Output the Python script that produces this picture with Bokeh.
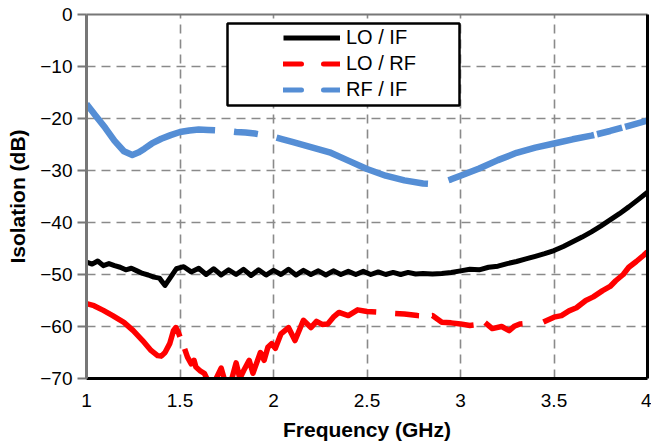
import math
from bokeh.plotting import figure
from bokeh.models import (Legend, LegendItem, LinearAxis, FixedTicker, CustomJSTickFormatter,
                          BoxAnnotation, ColumnDataSource, Range1d)
from bokeh.embed import file_html
from bokeh.resources import INLINE

# ---- data ----
x_ticks = [1, 1.5, 2, 2.5, 3, 3.5, 4]
y_ticks = [0, -10, -20, -30, -40, -50, -60, -70]

lo_if_freq = [1.00, 1.03, 1.06, 1.09, 1.12, 1.15, 1.18, 1.21, 1.24, 1.27, 1.30, 1.33, 1.36, 1.39,
              1.42, 1.45, 1.48, 1.52, 1.56, 1.60, 1.64, 1.68, 1.72, 1.76, 1.80, 1.84, 1.88, 1.92,
              1.96, 2.00, 2.04, 2.08, 2.12, 2.16, 2.20, 2.24, 2.28, 2.32, 2.36, 2.40, 2.44, 2.48,
              2.52, 2.56, 2.60, 2.64, 2.68, 2.72, 2.76, 2.80, 2.85, 2.90, 2.95, 3.00, 3.05, 3.10,
              3.15, 3.20, 3.25, 3.30, 3.35, 3.40, 3.45, 3.50, 3.55, 3.60, 3.65, 3.70, 3.75, 3.80,
              3.85, 3.90, 3.95, 4.00]
lo_if_db = [-47.6, -48.0, -47.4, -48.3, -47.9, -48.3, -48.6, -49.1, -48.8, -49.3, -49.8, -50.1, -50.5, -50.7,
            -52.1, -50.5, -48.9, -48.5, -49.5, -48.8, -50.0, -48.9, -50.1, -49.1, -50.0, -49.0, -50.2, -49.1,
            -50.1, -49.2, -50.0, -49.0, -50.1, -49.2, -50.0, -49.3, -50.1, -49.3, -50.0, -49.4, -50.0, -49.4,
            -50.0, -49.5, -50.0, -49.6, -50.0, -49.6, -49.9, -49.8, -49.9, -49.8, -49.6, -49.3, -49.0, -49.1,
            -48.6, -48.4, -47.9, -47.5, -47.0, -46.5, -46.0, -45.4, -44.6, -43.7, -42.8, -41.8, -40.7, -39.5,
            -38.3, -37.0, -35.6, -34.2]

lo_rf_freq = [1.00, 1.04, 1.09, 1.14, 1.20, 1.25, 1.30, 1.345, 1.38, 1.40, 1.42, 1.445, 1.465, 1.478,
              1.49, 1.50, 1.51, 1.54, 1.56, 1.575, 1.585, 1.61, 1.63, 1.65, 1.68, 1.70, 1.72, 1.74,
              1.77, 1.80, 1.82, 1.84, 1.87, 1.89, 1.91, 1.93, 1.95, 1.97, 1.99, 2.01, 2.04, 2.08,
              2.115, 2.16, 2.20, 2.23, 2.26, 2.29, 2.32, 2.35, 2.40, 2.45, 2.50, 2.55, 2.60, 2.65,
              2.70, 2.77, 2.82, 2.85, 2.90, 2.95, 3.00, 3.05, 3.10, 3.13, 3.17, 3.22, 3.26, 3.29,
              3.32, 3.38, 3.44, 3.50, 3.54, 3.58, 3.62, 3.67, 3.71, 3.76, 3.80, 3.83, 3.87, 3.90,
              3.94, 3.98, 4.00]
lo_rf_db = [-55.6, -56.0, -56.9, -57.9, -59.2, -60.8, -62.7, -64.6, -65.6, -65.7, -65.0, -63.3, -60.8, -60.2,
            -61.0, -62.0, -62.7, -65.9, -67.2, -66.5, -67.8, -68.6, -69.0, -70.5, -71.0, -69.5, -68.0, -70.5,
            -71.0, -67.0, -70.0, -68.5, -66.5, -69.0, -67.0, -65.0, -66.5, -64.0, -63.3, -64.2, -61.4, -60.2,
            -62.7, -58.8, -60.2, -59.0, -59.6, -59.5, -58.2, -57.3, -57.9, -56.8, -57.1, -57.2, -57.4, -57.5,
            -57.6, -57.9, -58.0, -57.9, -59.2, -59.3, -59.5, -59.8, -59.6, -59.2, -60.4, -60.0, -60.8, -59.9,
            -59.5, -59.3, -59.2, -58.2, -57.9, -57.0, -56.4, -55.0, -54.3, -53.1, -52.3, -51.2, -50.0, -48.6,
            -47.5, -46.3, -45.6]

rf_if_freq = [1.00, 1.05, 1.10, 1.15, 1.20, 1.245, 1.28, 1.31, 1.35, 1.40, 1.45, 1.50, 1.55, 1.60,
              1.65, 1.70, 1.75, 1.80, 1.85, 1.90, 1.95, 2.00, 2.05, 2.10, 2.20, 2.30, 2.40, 2.50,
              2.60, 2.70, 2.80, 2.85, 2.90, 2.95, 3.00, 3.10, 3.20, 3.30, 3.40, 3.50, 3.60, 3.70,
              3.80, 3.90, 4.00]
rf_if_db = [-17.2, -19.5, -21.8, -24.3, -26.3, -27.0, -26.5, -25.8, -24.8, -23.9, -23.2, -22.6, -22.3, -22.1,
            -22.2, -22.3, -22.4, -22.6, -22.7, -22.9, -23.2, -23.5, -24.0, -24.5, -25.5, -26.5, -28.1, -29.7,
            -31.0, -31.9, -32.5, -32.6, -32.3, -31.7, -31.0, -29.6, -28.0, -26.6, -25.6, -24.8, -24.0, -23.3,
            -22.4, -21.4, -20.4]

series_names = ["LO / IF", "LO / RF", "RF / IF"]

# ---- style ----
FONT = "Liberation Sans"
BLACK = "#000000"
RED = "#FF0000"
BLUE = "#558ED5"
GRID = "#8A8A8A"
W, H = 651, 446
ML, MR, MT, MB = 86, 4, 14, 68
FRAME_W, FRAME_H = W - ML - MR, H - MT - MB
X0, X1, Y0, Y1 = 1, 4, -70, 0
SX, SY = FRAME_W / (X1 - X0), FRAME_H / (Y1 - Y0)

# where the reference's dashed strokes break (frequency spans of the gaps)
red_gaps = [(1.50, 1.525), (2.55, 2.65), (2.78, 2.85), (3.07, 3.13), (3.33, 3.44)]
blue_gaps = [(1.69, 1.79), (1.92, 2.02), (2.83, 2.94), (3.72, 3.735), (3.87, 3.885)]


def dash_pattern(freqs, vals, gaps):
    """Turn gap spans into an on/off pattern measured along the drawn path (pixels)."""
    L = [0.0]
    for i in range(1, len(freqs)):
        L.append(L[-1] + math.hypot((freqs[i] - freqs[i - 1]) * SX, (vals[i] - vals[i - 1]) * SY))

    def at(fq):
        for i in range(len(freqs) - 1):
            if freqs[i] <= fq <= freqs[i + 1]:
                t = (fq - freqs[i]) / (freqs[i + 1] - freqs[i])
                return L[i] + t * (L[i + 1] - L[i])
        return L[-1]

    pat, pos = [], 0.0
    for a, b in gaps:
        la, lb = at(a), at(b)
        pat += [la - pos, lb - la]
        pos = lb
    pat += [L[-1] - pos + 60, 1]
    return " ".join(str(max(1, int(round(x)))) for x in pat)


p = figure(width=W, height=H, x_range=Range1d(X0, X1), y_range=Range1d(Y0, Y1),
           output_backend="svg", toolbar_location=None,
           min_border_left=ML, min_border_right=MR, min_border_top=MT, min_border_bottom=MB,
           background_fill_color="white", border_fill_color="white")
p.outline_line_color = None

# axes
p.xaxis.ticker = FixedTicker(ticks=x_ticks)
p.xaxis.formatter = CustomJSTickFormatter(code="return String(tick);")
p.yaxis.ticker = FixedTicker(ticks=y_ticks)
for ax in (p.xaxis[0], p.yaxis[0]):
    ax.major_label_text_font = FONT
    ax.major_label_text_font_size = "19px"
    ax.major_label_text_color = "#000000"
    ax.axis_label_text_font = FONT
    ax.axis_label_text_font_size = "21px"
    ax.axis_label_text_font_style = "bold"
    ax.axis_label_text_color = "#000000"
    ax.minor_tick_line_color = None
    ax.major_tick_in = 0

p.xaxis.axis_label = "Frequency (GHz)"
p.xaxis.axis_line_color = BLACK
p.xaxis.axis_line_width = 3
p.xaxis.major_tick_out = 0
p.xaxis.major_label_standoff = 15
p.xaxis.axis_label_standoff = 8

p.yaxis.axis_label = "Isolation (dB)"
p.yaxis.axis_line_color = "#777777"
p.yaxis.axis_line_width = 3
p.yaxis.major_tick_out = 9
p.yaxis.major_tick_line_color = "#777777"
p.yaxis.major_tick_line_width = 2
p.yaxis.major_label_standoff = 5
p.yaxis.axis_label_standoff = 8

right_ax = LinearAxis(ticker=FixedTicker(ticks=[]), axis_line_color=BLACK, axis_line_width=3,
                      major_tick_out=0, major_tick_in=0, minor_tick_out=0, minor_tick_in=0,
                      major_label_standoff=0, axis_label_standoff=0)
top_ax = LinearAxis(ticker=FixedTicker(ticks=[]), axis_line_color="#777777", axis_line_width=2,
                    major_tick_out=0, major_tick_in=0, minor_tick_out=0, minor_tick_in=0,
                    major_label_standoff=0, axis_label_standoff=0)
p.add_layout(right_ax, "right")
p.add_layout(top_ax, "above")

# grid
p.xgrid.ticker = FixedTicker(ticks=x_ticks)
p.ygrid.ticker = FixedTicker(ticks=y_ticks)
p.grid.grid_line_color = GRID
p.grid.grid_line_width = 1.6
p.grid.grid_line_dash = "9 6"

# data lines
src_lo_if = ColumnDataSource(dict(f=lo_if_freq, v=lo_if_db))
src_lo_rf = ColumnDataSource(dict(f=lo_rf_freq, v=lo_rf_db))
src_rf_if = ColumnDataSource(dict(f=rf_if_freq, v=rf_if_db))

p.line("f", "v", source=src_lo_if, line_color=BLACK, line_width=5, line_join="round")
p.line("f", "v", source=src_lo_rf, line_color=RED, line_width=5.5, line_join="round",
       line_dash=dash_pattern(lo_rf_freq, lo_rf_db, red_gaps))
p.line("f", "v", source=src_rf_if, line_color=BLUE, line_width=6.5, line_join="round",
       line_dash=dash_pattern(rf_if_freq, rf_if_db, blue_gaps))

# legend proxies (no visible data) carrying the legend's glyph style
nan = float("nan")
leg_src = ColumnDataSource(dict(f=[nan, nan], v=[nan, nan]))
lg_black = p.line("f", "v", source=leg_src, line_color=BLACK, line_width=5)
lg_red = p.line("f", "v", source=leg_src, line_color=RED, line_width=5, line_dash="18 22",
                line_cap="round")
lg_blue = p.line("f", "v", source=leg_src, line_color=BLUE, line_width=5, line_dash="18 22",
                 line_cap="round")

frame_box = BoxAnnotation(left=227, right=459, top=23, bottom=105,
                          left_units="canvas", right_units="canvas",
                          top_units="canvas", bottom_units="canvas",
                          fill_color="white", fill_alpha=1.0,
                          line_color=BLACK, line_alpha=1.0, line_width=2.5)
p.add_layout(frame_box)

legend = Legend(items=[LegendItem(label=series_names[0], renderers=[lg_black]),
                       LegendItem(label=series_names[1], renderers=[lg_red]),
                       LegendItem(label=series_names[2], renderers=[lg_blue])],
                location=(197, 276), padding=0, spacing=1, margin=0,
                glyph_width=57, glyph_height=25, label_height=25, label_standoff=6,
                label_text_font=FONT, label_text_font_size="20px", label_text_color="#000000",
                border_line_alpha=0, background_fill_alpha=0)
p.add_layout(legend)

open("out.html", "w").write(file_html(p, INLINE))
